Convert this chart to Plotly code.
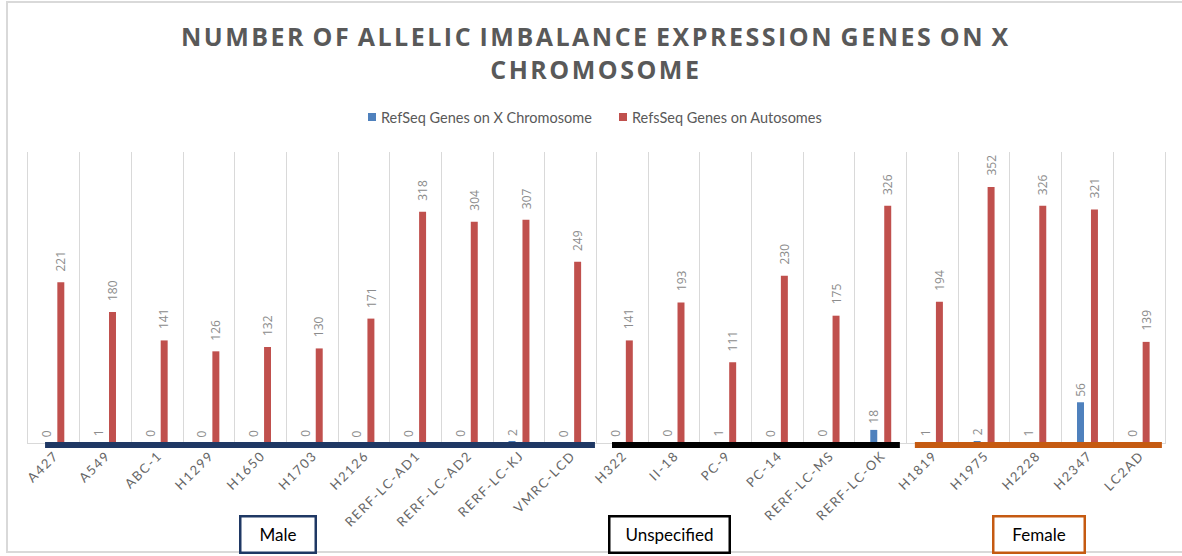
import plotly.graph_objects as go

# Cell lines and allelic-imbalance gene counts
cell_lines = ["A427", "A549", "ABC-1", "H1299", "H1650", "H1703", "H2126",
              "RERF-LC-AD1", "RERF-LC-AD2", "RERF-LC-KJ", "VMRC-LCD",
              "H322", "II-18", "PC-9", "PC-14", "RERF-LC-MS", "RERF-LC-OK",
              "H1819", "H1975", "H2228", "H2347", "LC2AD"]
x_chrom_genes = [0, 1, 0, 0, 0, 0, 0, 0, 0, 2, 0,
                 0, 0, 1, 0, 0, 18,
                 1, 2, 1, 56, 0]
autosome_genes = [221, 180, 141, 126, 132, 130, 171, 318, 304, 307, 249,
                  141, 193, 111, 230, 175, 326,
                  194, 352, 326, 321, 139]

# Sex groups: label and number of consecutive cell lines in each
group_names = ["Male", "Unspecified", "Female"]
group_sizes = [11, 6, 5]

series_names = ["RefSeq Genes on X Chromosome", "RefsSeq Genes on Autosomes"]
chart_title = "NUMBER OF ALLELIC IMBALANCE EXPRESSION GENES ON X CHROMOSOME"

BLUE = "#4F81BD"
RED = "#C0504D"
GREY_TXT = "#595959"
LABEL_TXT = "#8C8C8C"
GRID = "#D9D9D9"
group_colors = ["#1F3864", "#000000", "#C55A11"]
# extent of each group's underline relative to its first / last category
group_line_pad = [(-0.17, 0.47), (-0.20, 0.37), (-0.34, 0.44)]
group_box_center_px = [278, 669, 1039]
group_box_width = [71, 116, 87]

W, H = 1182, 556
ML, MR, MT, MB = 28, 17, 152, 113
PW, PH = W - ML - MR, H - MT - MB


def px_x(px):
    return (px - ML) / PW


def px_y(py):
    return (H - MB - py) / PH


def spaced(s, sep):
    return sep.join(s)


fig = go.Figure()
fig.add_trace(go.Bar(x=cell_lines, y=x_chrom_genes, name=series_names[0],
                     marker=dict(color=BLUE, line=dict(width=0))))
fig.add_trace(go.Bar(x=cell_lines, y=autosome_genes, name=series_names[1],
                     marker=dict(color=RED, line=dict(width=0))))

shapes = []
annotations = []

# vertical value labels above each bar (offset to the bar's slot in the group)
for values, dx, gap in ((x_chrom_genes, -7, 4), (autosome_genes, 7, 9)):
    for cat, v in zip(cell_lines, values):
        annotations.append(dict(text=str(v), x=cat, y=v, xref="x", yref="y",
                                showarrow=False, textangle=-90,
                                xanchor="center", yanchor="bottom",
                                xshift=dx, yshift=gap,
                                font=dict(family="Open Sans", size=12,
                                          color=LABEL_TXT)))

# coloured underline and labelled box for each sex group
start = 0
for name, size, col, pad, cx, bw in zip(group_names, group_sizes, group_colors,
                                        group_line_pad, group_box_center_px,
                                        group_box_width):
    end = start + size - 1
    shapes.append(dict(type="line", xref="x", yref="paper",
                       x0=start + pad[0], x1=end + pad[1],
                       y0=px_y(445), y1=px_y(445),
                       line=dict(color=col, width=6), layer="above"))
    annotations.append(dict(text=name, xref="paper", yref="paper",
                            x=px_x(cx), y=px_y(534), showarrow=False,
                            xanchor="center", yanchor="middle",
                            width=bw, height=32, borderpad=1,
                            bordercolor=col, borderwidth=2.5,
                            bgcolor="white",
                            font=dict(family="Lato", size=17, color="#000000")))
    start += size

# legend drawn as small swatches with labels
legend_items = [(368, BLUE, series_names[0]), (619, RED, series_names[1])]
for sx, col, label in legend_items:
    shapes.append(dict(type="rect", xref="paper", yref="paper",
                       x0=px_x(sx), x1=px_x(sx + 8),
                       y0=px_y(121), y1=px_y(113),
                       fillcolor=col, line=dict(width=0)))
    annotations.append(dict(text=label, xref="paper", yref="paper",
                            x=px_x(sx + 11), y=px_y(117), showarrow=False,
                            xanchor="left", yanchor="middle",
                            font=dict(family="Lato", size=14.5, color=GREY_TXT)))

# two-line title, letter-spaced with wide word gaps
title_words = chart_title.split(" ")
title_lines = [" ".join(title_words[:-1]), title_words[-1]]
title_text = "<br>".join(
    "\u00a0\u200a".join(spaced(w, "\u200a") for w in line.split(" "))
    for line in title_lines)
annotations.append(dict(text=title_text, xref="paper", yref="paper",
                        x=px_x(594), y=px_y(52), showarrow=False,
                        xanchor="center", yanchor="middle", align="center",
                        font=dict(family="Open Sans", size=25, color=GREY_TXT,
                                  weight="bold")))

# outer chart border
shapes.append(dict(type="rect", xref="paper", yref="paper",
                   x0=px_x(7), x1=px_x(1190), y0=px_y(552), y1=px_y(2),
                   line=dict(color=GRID, width=2), layer="below"))

fig.update_layout(
    width=W, height=H,
    margin=dict(l=ML, r=MR, t=MT, b=MB),
    paper_bgcolor="white", plot_bgcolor="white",
    barmode="group", bargap=0.46, bargroupgap=0.5,
    showlegend=False,
    xaxis=dict(type="category", range=[-0.5, len(cell_lines) - 0.5],
               tickson="boundaries", ticks="", showgrid=True,
               gridcolor=GRID, gridwidth=1,
               showline=True, linecolor=GRID, linewidth=1,
               tickmode="array", tickvals=cell_lines,
               ticktext=[spaced(c, "\u200a\u200a") for c in cell_lines],
               tickangle=-45,
               tickfont=dict(family="Lato", size=13, color="#666666")),
    yaxis=dict(range=[0, 400], showgrid=False, zeroline=False,
               showticklabels=False, ticks="",
               showline=True, mirror=True, linecolor=GRID, linewidth=1),
    shapes=shapes,
    annotations=annotations,
)

fig.write_html("out.html")
